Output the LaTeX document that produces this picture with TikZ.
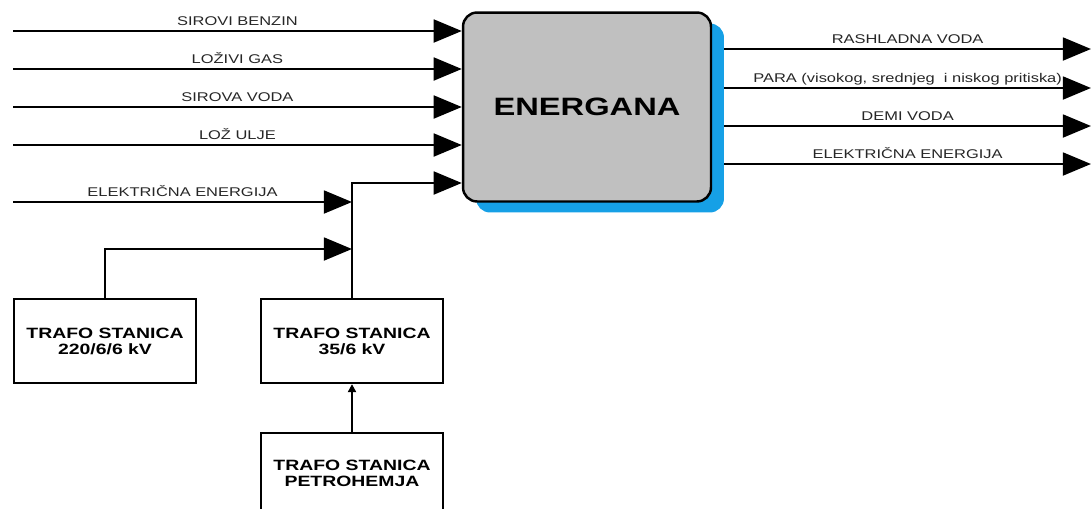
\documentclass[tikz,border=0pt]{standalone}
\usepackage{fontspec}
\setmainfont{Liberation Sans}
\newfontfamily\lblfont[FakeStretch=1.3]{Liberation Sans}
\usetikzlibrary{arrows.meta,shadows}
\definecolor{boxgray}{RGB}{192,192,192}
\definecolor{shadowblue}{RGB}{22,160,230}

\begin{document}
\begin{tikzpicture}[x=0.02cm,y=-0.02cm]
\tikzstyle{flow}=[line width=1.4pt,-{Triangle[length=16pt,width=13pt]}]
\tikzstyle{feed}=[line width=1.4pt,-{Triangle[length=4.5pt,width=4.5pt]}]
\tikzstyle{lbl}=[midway,anchor=base,yshift=0.11cm,inner sep=0pt,text=black!85,font=\lblfont\fontsize{7.2}{8}\selectfont]
\tikzstyle{trafo}=[draw,line width=1.3pt,minimum width=3.64cm,minimum height=1.68cm,inner sep=0pt,align=center,font=\lblfont\bfseries\fontsize{8.5}{9.1}\selectfont]
\useasboundingbox (0,0) rectangle (1092,508);
\clip (0,0) rectangle (1092,508);
\draw (587,107) node (energana) [draw,line width=1.4pt,rounded corners=8pt,fill=boxgray,minimum width=4.96cm,minimum height=3.78cm,drop shadow={fill=shadowblue,opacity=1,shadow xshift=0.26cm,shadow yshift=-0.22cm},font=\lblfont\bfseries\fontsize{14.3}{16}\selectfont] {ENERGANA};
\draw (105,341) node (t220) [trafo] {TRAFO STANICA\\220/6/6 kV};
\draw (352,341) node (t35) [trafo] {TRAFO STANICA\\35/6 kV};
\draw (352,473) node (petro) [trafo,minimum height=1.6cm] {TRAFO STANICA\\PETROHEMJA};
\coordinate (in1) at (13,31);
\coordinate (in2) at (13,69);
\coordinate (in3) at (13,107);
\coordinate (in4) at (13,145);
\coordinate (el) at (13,202);
\coordinate (j1) at (352,183);
\coordinate (j3) at (352,249);
\coordinate (out1) at (1091,49);
\coordinate (out2) at (1091,88);
\coordinate (out3) at (1091,126);
\coordinate (out4) at (1091,164);
\draw[flow] (in1) -- (in1 -| energana.west) node[lbl] {SIROVI BENZIN};
\draw[flow] (in2) -- (in2 -| energana.west) node[lbl] {LOŽIVI GAS};
\draw[flow] (in3) -- (in3 -| energana.west) node[lbl] {SIROVA VODA};
\draw[flow] (in4) -- (in4 -| energana.west) node[lbl] {LOŽ ULJE};
\draw[flow] (el) -- (el -| t35.north) node[lbl] {ELEKTRIČNA ENERGIJA};
\draw[flow] (t35.north) -- (j1) -- (j1 -| energana.west);
\draw[flow] (t220.north) |- (j3);
\draw[feed] (petro.north) -- (t35.south);
\draw[flow] ([xshift=0.24cm]energana.east |- out1) -- (out1) node[lbl] {RASHLADNA VODA};
\draw[flow] ([xshift=0.24cm]energana.east |- out2) -- (out2) node[lbl] {PARA (visokog, srednjeg\ \ i niskog pritiska)};
\draw[flow] ([xshift=0.24cm]energana.east |- out3) -- (out3) node[lbl] {DEMI VODA};
\draw[flow] ([xshift=0.24cm]energana.east |- out4) -- (out4) node[lbl] {ELEKTRIČNA ENERGIJA};
\end{tikzpicture}
\end{document}
